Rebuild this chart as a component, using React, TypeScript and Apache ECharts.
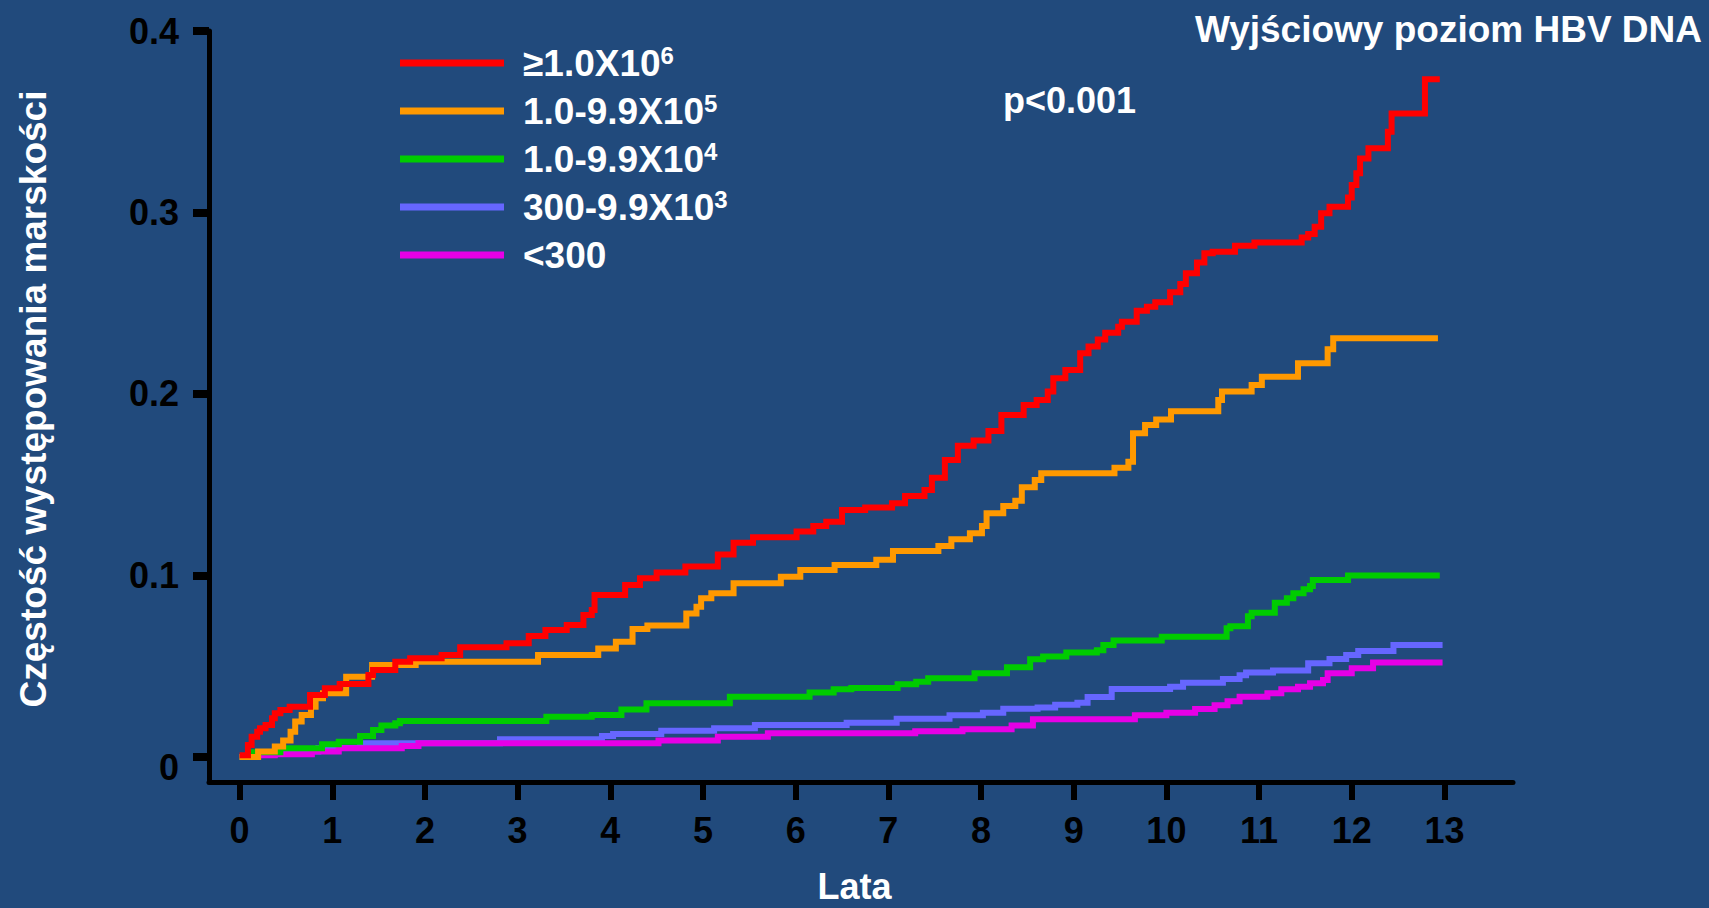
import React, { useEffect, useRef } from 'react';
import * as echarts from 'echarts';

const BG = '#214a7c';
const FONT = 'Liberation Sans, Arial, Helvetica, sans-serif';

const xTicks = [0, 1, 2, 3, 4, 5, 6, 7, 8, 9, 10, 11, 12, 13];
const yTicks = [0, 0.1, 0.2, 0.3, 0.4];

const seriesNames = ['≥1.0X10^6', '1.0-9.9X10^5', '1.0-9.9X10^4', '300-9.9X10^3', '<300'];
const seriesColors = ['#ff0000', '#ff9900', '#00cc00', '#6666ff', '#e600e6'];

const titleText = 'Wyjściowy poziom HBV DNA';
const pText = 'p<0.001';
const xName = 'Lata';
const yName = 'Częstość występowania marskości';

// [year, cumulative incidence] step points (value holds from that year on)
const redSteps = [
  [0, 0.001], [0.09, 0.0066], [0.13, 0.0112], [0.19, 0.0139], [0.22, 0.0158], [0.28, 0.0176],
  [0.35, 0.0213], [0.38, 0.0241], [0.44, 0.0259], [0.54, 0.0277], [0.76, 0.0342], [0.92, 0.0378],
  [1.08, 0.0402], [1.39, 0.0452], [1.44, 0.0479], [1.68, 0.0525], [1.84, 0.0544], [2.18, 0.0562],
  [2.38, 0.0604], [2.88, 0.0626], [3.12, 0.0667], [3.3, 0.07], [3.53, 0.0727], [3.71, 0.0782],
  [3.8, 0.081], [3.83, 0.0893], [4.16, 0.0948], [4.32, 0.0985], [4.5, 0.1016], [4.81, 0.1049],
  [5.16, 0.1115], [5.33, 0.118], [5.54, 0.121], [6.01, 0.1242], [6.19, 0.1273], [6.33, 0.1296],
  [6.5, 0.1361], [6.75, 0.1374], [7.04, 0.1398], [7.18, 0.1438], [7.39, 0.1471], [7.47, 0.1539],
  [7.61, 0.1636], [7.75, 0.1715], [7.92, 0.1743], [8.08, 0.1796], [8.22, 0.1884], [8.46, 0.1939],
  [8.6, 0.1967], [8.72, 0.2013], [8.78, 0.2086], [8.91, 0.2132], [9.07, 0.2224], [9.16, 0.2261],
  [9.26, 0.23], [9.34, 0.2338], [9.48, 0.2371], [9.52, 0.2398], [9.68, 0.2459], [9.79, 0.2481],
  [9.88, 0.2505], [10.04, 0.256], [10.15, 0.2606], [10.21, 0.2665], [10.33, 0.2725], [10.41, 0.2775],
  [10.5, 0.2784], [10.74, 0.2817], [10.95, 0.2835], [11.46, 0.2862], [11.53, 0.2882], [11.6, 0.2922],
  [11.67, 0.2996], [11.76, 0.3032], [11.96, 0.3083], [12.0, 0.3152], [12.05, 0.3216], [12.09, 0.3298],
  [12.18, 0.3354], [12.39, 0.3445], [12.43, 0.3546], [12.79, 0.3734], [12.95, 0.3734],
];

const orangeSteps = [
  [0, 0], [0.2, 0.003], [0.38, 0.0057], [0.47, 0.009], [0.55, 0.0139], [0.6, 0.0195],
  [0.67, 0.0231], [0.77, 0.0277], [0.82, 0.0323], [0.9, 0.0351], [1.15, 0.0442], [1.43, 0.0507],
  [1.9, 0.0525], [3.22, 0.0562], [3.87, 0.0598], [4.06, 0.0635], [4.24, 0.0705], [4.4, 0.0725],
  [4.82, 0.079], [4.93, 0.0828], [4.98, 0.0874], [5.09, 0.0902], [5.33, 0.0957], [5.84, 0.0993],
  [6.05, 0.103], [6.42, 0.1058], [6.87, 0.1087], [7.05, 0.1135], [7.54, 0.1163], [7.68, 0.1199],
  [7.88, 0.1232], [8.01, 0.1273], [8.06, 0.1343], [8.24, 0.1383], [8.37, 0.1412], [8.44, 0.1486],
  [8.58, 0.1526], [8.65, 0.1563], [9.44, 0.1594], [9.59, 0.1627], [9.64, 0.1783], [9.77, 0.1829],
  [9.89, 0.186], [10.05, 0.1905], [10.56, 0.1967], [10.6, 0.2013], [10.92, 0.205], [11.03, 0.2095],
  [11.42, 0.2169], [11.74, 0.2246], [11.8, 0.2307], [12.93, 0.2307],
];

const greenSteps = [
  [0, 0], [0.1, 0.0015], [0.15, 0.0026], [0.44, 0.0048], [0.89, 0.007], [1.07, 0.0084],
  [1.3, 0.0116], [1.44, 0.0149], [1.53, 0.0173], [1.68, 0.0186], [1.73, 0.0198], [3.31, 0.0222],
  [3.8, 0.0231], [4.12, 0.0261], [4.39, 0.0296], [5.29, 0.0332], [6.15, 0.0355], [6.41, 0.0373],
  [6.6, 0.038], [7.1, 0.04], [7.3, 0.0415], [7.43, 0.0434], [7.93, 0.0461], [8.28, 0.0494],
  [8.53, 0.0538], [8.67, 0.0553], [8.92, 0.0575], [9.25, 0.0588], [9.32, 0.0617], [9.43, 0.0641],
  [9.95, 0.0663], [10.65, 0.0709], [10.69, 0.072], [10.88, 0.0775], [10.92, 0.0795], [11.17, 0.085],
  [11.3, 0.0874], [11.37, 0.0902], [11.48, 0.0924], [11.55, 0.0942], [11.58, 0.0975], [11.96, 0.1],
  [12.95, 0.1],
];

const blueSteps = [
  [0, 0], [0.15, 0.002], [0.45, 0.003], [0.85, 0.005], [1.3, 0.0075], [2.81, 0.0098],
  [3.91, 0.0116], [4.03, 0.0127], [4.55, 0.0144], [5.12, 0.0158], [5.56, 0.0176], [6.55, 0.0188],
  [7.09, 0.021], [7.66, 0.023], [8.02, 0.0244], [8.24, 0.0266], [8.61, 0.0272], [8.8, 0.0288],
  [9.04, 0.0299], [9.15, 0.033], [9.41, 0.0375], [10.04, 0.0387], [10.18, 0.0409], [10.61, 0.043],
  [10.79, 0.045], [10.86, 0.0465], [11.15, 0.0476], [11.53, 0.0516], [11.76, 0.054], [11.94, 0.0562],
  [12.07, 0.0584], [12.45, 0.0617], [12.98, 0.0617],
];

const magentaSteps = [
  [0, 0], [0.19, 0.001], [0.38, 0.0015], [0.78, 0.003], [1.07, 0.0048], [1.75, 0.006],
  [1.93, 0.0075], [4.52, 0.009], [5.16, 0.0112], [5.7, 0.013], [7.29, 0.0142], [7.8, 0.0153],
  [8.33, 0.0173], [8.56, 0.0208], [9.66, 0.023], [10.0, 0.0244], [10.31, 0.0264], [10.52, 0.0285],
  [10.66, 0.0307], [10.79, 0.0332], [11.09, 0.0351], [11.24, 0.0373], [11.42, 0.0387], [11.55, 0.0406],
  [11.69, 0.0424], [11.74, 0.0461], [12.0, 0.0489], [12.23, 0.052], [12.98, 0.052],
];

const allSteps = [redSteps, orangeSteps, greenSteps, blueSteps, magentaSteps];
const seriesZ = [10, 9, 8, 6, 7];

function buildOption(): any {
  const textBase = { color: '#ffffff', fontFamily: FONT, fontWeight: 'bold' as const };
  return {
    animation: false,
    backgroundColor: BG,
    title: [
      {
        text: titleText,
        right: 7,
        top: 11,
        padding: 0,
        textStyle: { ...textBase, fontSize: 37, lineHeight: 37 },
      },
      {
        text: pText,
        left: 1003,
        top: 82,
        padding: 0,
        textStyle: { ...textBase, fontSize: 36, lineHeight: 36 },
      },
    ],
    legend: {
      orient: 'vertical',
      left: 400,
      top: 43,
      padding: 0,
      itemWidth: 104,
      itemHeight: 7,
      itemGap: 8,
      icon: 'rect',
      selectedMode: false,
      data: seriesNames,
      formatter: (name: string) => {
        const [base, exp] = name.split('^');
        return exp ? `{b|${base}}{s|${exp}}` : `{b|${base}}`;
      },
      textStyle: {
        ...textBase,
        fontSize: 37,
        lineHeight: 40,
        padding: [0, 0, 0, 14],
        rich: {
          b: { ...textBase, fontSize: 37, lineHeight: 40 },
          s: { ...textBase, fontSize: 24, lineHeight: 26, verticalAlign: 'top' },
        },
      },
    },
    grid: {
      left: 209,
      top: 31,
      width: 1304,
      height: 751,
      containLabel: false,
      outerBoundsMode: 'none',
    },
    xAxis: {
      type: 'value',
      min: -0.33,
      max: 13.74,
      splitLine: { show: false },
      axisLine: { onZero: false, lineStyle: { color: '#000', width: 5 } },
      axisTick: {
        show: true,
        customValues: xTicks,
        length: 18,
        lineStyle: { color: '#000', width: 6 },
      },
      axisLabel: {
        customValues: xTicks,
        color: '#000',
        fontFamily: FONT,
        fontWeight: 'bold',
        fontSize: 36,
        margin: 30,
      },
      name: xName,
      nameLocation: 'middle',
      nameGap: 89,
      nameTextStyle: { ...textBase, fontSize: 36, lineHeight: 30, padding: [0, 13, 0, 0] },
    },
    yAxis: {
      type: 'value',
      min: -0.0138,
      max: 0.4,
      splitLine: { show: false },
      axisLine: { onZero: false, lineStyle: { color: '#000', width: 5 } },
      axisTick: {
        show: true,
        customValues: yTicks,
        length: 16,
        lineStyle: { color: '#000', width: 8 },
      },
      axisLabel: {
        customValues: yTicks,
        color: '#000',
        fontFamily: FONT,
        fontWeight: 'bold',
        fontSize: 36,
        margin: 30,
        formatter: (v: number) => (v === 0 ? '{z|0}' : v.toFixed(1)),
        rich: {
          z: {
            color: '#000',
            fontFamily: FONT,
            fontWeight: 'bold',
            fontSize: 36,
            padding: [22, 0, 0, 0],
          },
        },
      },
      name: yName,
      nameLocation: 'middle',
      nameGap: 157,
      nameTextStyle: { ...textBase, fontSize: 37, padding: [0, 0, 0, 15] },
    },
    series: seriesNames.map((name, i) => ({
      type: 'line',
      name,
      data: allSteps[i],
      step: 'end',
      symbol: 'none',
      showSymbol: false,
      silent: true,
      z: seriesZ[i],
      itemStyle: { color: seriesColors[i] },
      lineStyle: { color: seriesColors[i], width: 6, cap: 'butt', join: 'miter' },
    })),
  };
}

export default function App() {
  const ref = useRef<HTMLDivElement>(null);
  useEffect(() => {
    document.body.style.margin = '0';
    document.body.style.background = BG;
    if (!ref.current) return;
    const chart = echarts.init(ref.current, null, { renderer: 'svg' });
    chart.setOption(buildOption());
    return () => {
      chart.dispose();
    };
  }, []);
  return <div ref={ref} style={{ width: 1709, height: 908 }} />;
}
